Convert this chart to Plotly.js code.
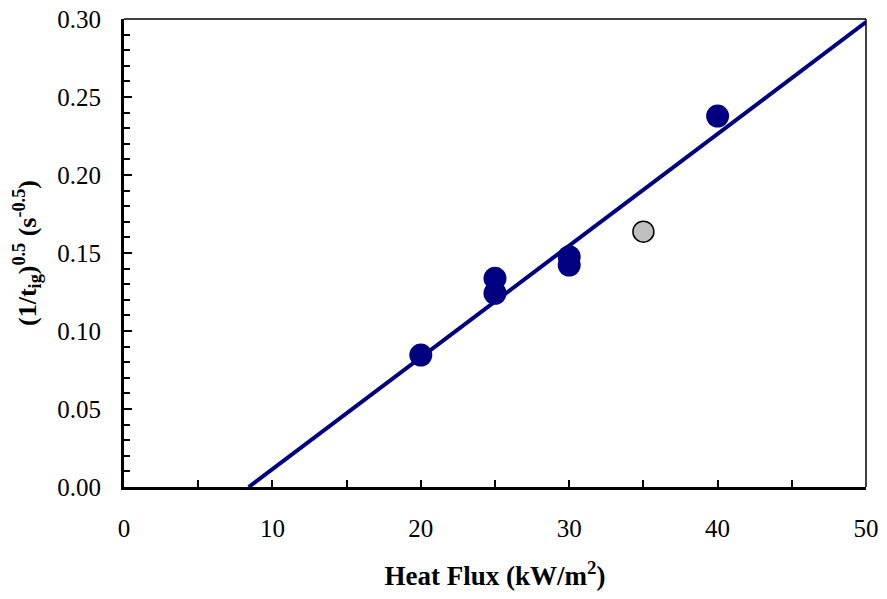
<!DOCTYPE html>
<html>
<head>
<meta charset="utf-8">
<script src="https://cdn.plot.ly/plotly-3.0.1.min.js"></script>
<style>html,body{margin:0;padding:0;background:#fff;}#chart{width:887px;height:599px;}</style>
</head>
<body>
<div id="chart"></div>
<script>
// Data
const heatFlux = [20, 25, 25, 30, 30, 40];
const ignition = [0.0846, 0.1338, 0.1242, 0.1476, 0.1423, 0.2378];
const outlierFlux = [35];
const outlierIgn = [0.1637];
const fitX = [8.4, 50];
const fitY = [0.0, 0.298];

const xTickVals = [0, 10, 20, 30, 40, 50];
const xTickText = ['0', '10', '20', '30', '40', '50'];
const yTickVals = [0, 0.05, 0.10, 0.15, 0.20, 0.25, 0.30];
const yTickText = ['0.00', '0.05', '0.10', '0.15', '0.20', '0.25', '0.30'];

const serif = '"Liberation Serif", "Times New Roman", Times, serif';

const traces = [
  {x: fitX, y: fitY, mode: 'lines', line: {color: '#000080', width: 4}, hoverinfo: 'skip', showlegend: false},
  {x: heatFlux, y: ignition, mode: 'markers', marker: {color: '#000080', size: 23, line: {width: 0}}, showlegend: false, cliponaxis: false},
  {x: outlierFlux, y: outlierIgn, mode: 'markers', marker: {color: '#C0C0C0', size: 21, line: {color: '#000', width: 1.5}}, showlegend: false, cliponaxis: false}
];

const layout = {
  width: 887, height: 599,
  margin: {l: 124, r: 21, t: 19, b: 112},
  paper_bgcolor: '#fff', plot_bgcolor: '#fff',
  font: {family: serif, color: '#000', size: 25},
  showlegend: false,
  xaxis: {
    range: [0, 50], tickvals: xTickVals, ticktext: xTickText,
    showgrid: false, zeroline: false, automargin: false,
    showline: true, linecolor: '#000', linewidth: 3,
    ticks: 'inside', ticklen: 7, tickwidth: 2, tickcolor: '#000',
    minor: {tickvals: [5, 15, 25, 35, 45], ticks: 'inside', ticklen: 7, tickwidth: 2, tickcolor: '#000', showgrid: false},
    tickfont: {family: serif, size: 25, color: '#000'},
    ticklabelstandoff: 17,
    title: {text: '<b>Heat Flux (kW/m<sup>2</sup>)</b>', font: {family: serif, size: 27, color: '#000'}, standoff: 26}
  },
  yaxis: {
    range: [0, 0.30], tickvals: yTickVals, ticktext: yTickText,
    showgrid: false, zeroline: false, automargin: false,
    showline: true, linecolor: '#000', linewidth: 3,
    ticks: 'inside', ticklen: 8, tickwidth: 2, tickcolor: '#000',
    minor: {dtick: 0.01, ticks: 'inside', ticklen: 6, tickwidth: 2, tickcolor: '#000', showgrid: false},
    tickfont: {family: serif, size: 25, color: '#000'},
    ticklabelstandoff: 15,
    title: {text: '<b>(1/t<sub>ig</sub>)<sup>0.5</sup> (s<sup>-0.5</sup>)</b>', font: {family: serif, size: 26, color: '#000'}, standoff: 14}
  },
  shapes: [
    {type: 'line', xref: 'paper', yref: 'paper', x0: 0, x1: 1, y0: 1, y1: 1, line: {color: '#000', width: 1.5}},
    {type: 'line', xref: 'paper', yref: 'paper', x0: 1, x1: 1, y0: 0, y1: 1, line: {color: '#000', width: 1.5}}
  ]
};

Plotly.newPlot('chart', traces, layout, {displayModeBar: false, staticPlot: true});
</script>
</body>
</html>
